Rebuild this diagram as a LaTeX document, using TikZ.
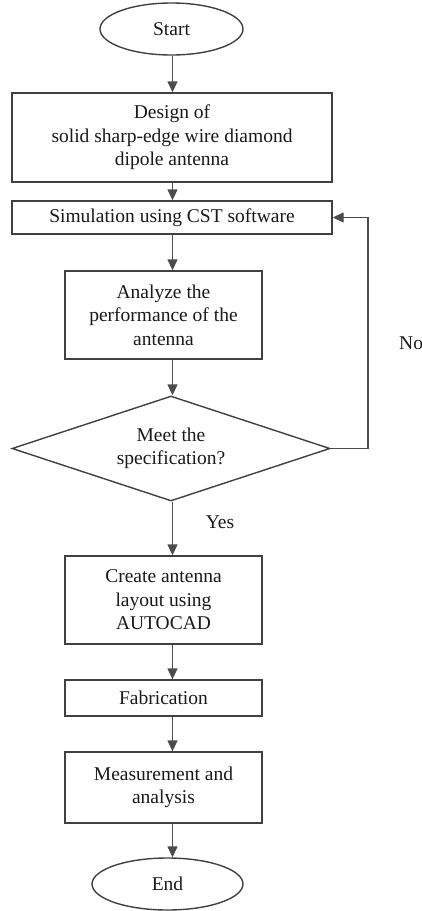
\documentclass[tikz,border=0pt]{standalone}
\usepackage{fontspec}
\setmainfont{Liberation Serif}
\usetikzlibrary{shapes.geometric,arrows.meta}
\tikzset{
  every node/.style={font=\fontsize{19.5}{23.5}\selectfont, text=black!90},
  frame/.style={draw=black!75, line width=1.4pt},
  procbox/.style={frame, rectangle, inner sep=0pt, align=center},
  termbox/.style={frame, ellipse, inner sep=0pt},
  decbox/.style={frame, diamond, aspect=3, inner sep=0pt, align=center},
  arr/.style={draw=black!70, line width=1.4pt, -{Triangle[length=11pt,width=10pt]}},
  lbl/.style={inner sep=0pt}
}
\begin{document}
\begin{tikzpicture}[x=1pt,y=-1pt]
\useasboundingbox (0,0) rectangle (422,911);
\node[termbox, minimum width=143pt, minimum height=52pt] (start) at (171.5,29) {Start};
\node[procbox, minimum width=320pt, minimum height=89pt] (design) at (172,137.5)
  {Design of\\solid sharp-edge wire diamond\\dipole antenna};
\node[procbox, minimum width=320pt, minimum height=33pt] (sim) at (172,217.5)
  {Simulation using CST software};
\node[procbox, minimum width=197pt, minimum height=88pt] (ana) at (163.5,315)
  {Analyze the\\performance of the\\antenna};
\node[decbox, minimum width=318pt, minimum height=105pt] (dec) at (171,448.5)
  {Meet the\\specification?};
\node[procbox, minimum width=197pt, minimum height=88pt] (create) at (163.5,600)
  {Create antenna\\layout using\\AUTOCAD};
\node[procbox, minimum width=197pt, minimum height=36pt] (fab) at (163.5,698)
  {Fabrication};
\node[procbox, minimum width=197pt, minimum height=71pt] (meas) at (163.5,787.5)
  {Measurement and\\analysis};
\node[termbox, minimum width=151pt, minimum height=52pt] (end) at (167.5,884) {End};
\node[lbl] (yes) at (220,522) {Yes};
\node[lbl, anchor=west] (no) at (399,343) {No};
\coordinate (spine) at (172.5,0);
\coordinate (fb) at (368,448.5);
\draw[arr] (spine |- start.south) -- (spine |- design.north);
\draw[arr] (spine |- design.south) -- (spine |- sim.north);
\draw[arr] (spine |- sim.south) -- (spine |- ana.north);
\draw[arr] (spine |- ana.south) -- (spine |- dec.north);
\draw[arr] (spine |- dec.south) -- (spine |- create.north);
\draw[arr] (spine |- create.south) -- (spine |- fab.north);
\draw[arr] (spine |- fab.south) -- (spine |- meas.north);
\draw[arr] (spine |- meas.south) -- (spine |- end.north);
\draw[arr] (dec.east) -- (fb) |- (sim.east);
\end{tikzpicture}
\end{document}
